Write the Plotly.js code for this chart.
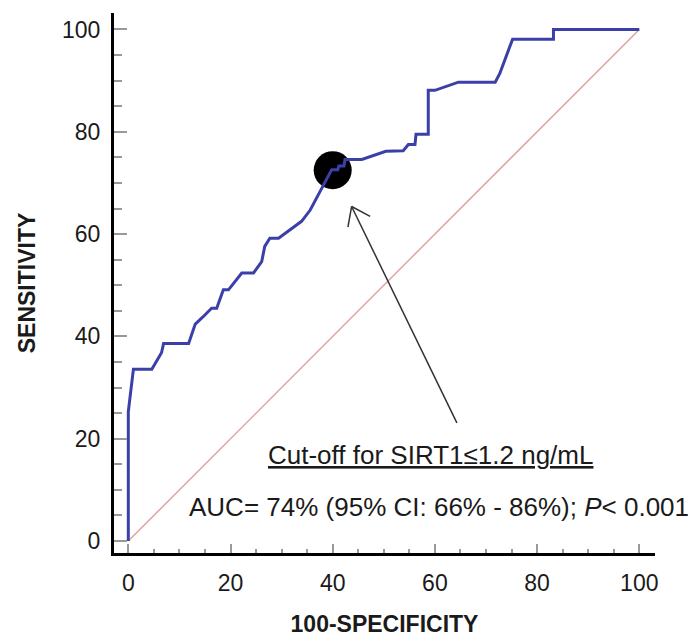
<!DOCTYPE html>
<html>
<head>
<meta charset="utf-8">
<script src="https://cdn.plot.ly/plotly-3.0.1.min.js"></script>
<style>
  html, body { margin: 0; padding: 0; background: #ffffff; }
  #chart { width: 698px; height: 643px; }
</style>
</head>
<body>
<div id="chart"></div>
<script>
// ROC curve for SIRT1 (100-specificity vs sensitivity, in %)
const rocFpr = [0, 0, 1.0, 4.6, 6.5, 6.9, 11.8, 13.1, 14.7, 16.3, 17.3, 18.6, 19.6, 22.2, 24.5,
  26.1, 26.7, 27.7, 29.4, 33.9, 35.6, 37.2, 38.3, 39.8, 41.0, 41.2, 42.2, 42.4, 45.7, 50.4,
  53.8, 54.8, 56.1, 56.3, 58.7, 58.7, 60.0, 64.6, 71.8, 72.7, 75.2, 83.2, 83.2, 100];
const rocTpr = [0, 25.3, 33.6, 33.6, 36.8, 38.6, 38.6, 42.4, 43.9, 45.5, 45.5, 49.1, 49.1, 52.4, 52.4,
  54.6, 57.6, 59.2, 59.2, 62.5, 64.7, 67.7, 69.8, 72.6, 72.6, 73.3, 73.3, 74.6, 74.6, 76.2,
  76.3, 77.5, 77.5, 79.5, 79.5, 88.1, 88.1, 89.7, 89.7, 91.4, 98.1, 98.1, 100, 100];

// Reference (chance) diagonal
const diagX = [0, 100];
const diagY = [0, 100];

// Optimal cut-off point
const cutX = [40.0];
const cutY = [72.5];

// Arrow from the label to the cut-off point
const arrowTail = [64.3, 23.1];
const arrowTip = [43.7, 65.4];

const tickVals = [0, 20, 40, 60, 80, 100];
const tickText = ['0', '20', '40', '60', '80', '100'];

const labelFont = 'Arial, "Liberation Sans", sans-serif';

const traces = [
  {
    x: diagX, y: diagY, mode: 'lines', type: 'scatter',
    line: { color: '#e0a4a0', width: 1.5 },
    hoverinfo: 'skip', showlegend: false
  },
  {
    x: cutX, y: cutY, mode: 'markers', type: 'scatter',
    marker: { color: '#000000', size: 38, line: { width: 0 } },
    showlegend: false
  },
  {
    x: rocFpr, y: rocTpr, mode: 'lines', type: 'scatter',
    line: { color: '#3b40a8', width: 3 },
    showlegend: false
  }
];

const axisCommon = {
  showgrid: false, zeroline: false,
  showline: true, linecolor: '#000000', linewidth: 3,
  ticks: 'inside', tickcolor: '#999999', tickwidth: 2,
  tickmode: 'array', tickvals: tickVals, ticktext: tickText,
  tickfont: { family: labelFont, size: 23, color: '#1a1a1a' },
  fixedrange: true
};

const margin = { l: 114, r: 43, t: 13, b: 89.5 };
const xRange = [-2.8, 103.07];
const yRange = [-2.34, 103.22];
const plotW = 698 - margin.l - margin.r;
const plotH = 643 - margin.t - margin.b;

// Open arrowhead: two short strokes at the tip, built in pixel space
function toPx(p) {
  return [
    (p[0] - xRange[0]) / (xRange[1] - xRange[0]) * plotW,
    (p[1] - yRange[0]) / (yRange[1] - yRange[0]) * plotH
  ];
}
function toData(q) {
  return [
    xRange[0] + q[0] / plotW * (xRange[1] - xRange[0]),
    yRange[0] + q[1] / plotH * (yRange[1] - yRange[0])
  ];
}
const tipPx = toPx(arrowTip), tailPx = toPx(arrowTail);
const ang = Math.atan2(tailPx[1] - tipPx[1], tailPx[0] - tipPx[0]);
const headLen = 21, headSpread = 36 * Math.PI / 180;
const headShapes = [-1, 1].map(function (s) {
  const a = ang + s * headSpread;
  const end = toData([tipPx[0] + headLen * Math.cos(a), tipPx[1] + headLen * Math.sin(a)]);
  return {
    type: 'line', xref: 'x', yref: 'y',
    x0: arrowTip[0], y0: arrowTip[1], x1: end[0], y1: end[1],
    line: { color: '#333333', width: 1.5 }
  };
});

const layout = {
  width: 698, height: 643,
  margin: margin,
  paper_bgcolor: '#ffffff', plot_bgcolor: '#ffffff',
  showlegend: false,
  xaxis: Object.assign({}, axisCommon, {
    range: xRange,
    ticklen: 9,
    minor: { dtick: 5, tick0: 0, ticks: 'inside', ticklen: 4, tickcolor: '#999999', tickwidth: 2 },
    ticklabelstandoff: 7,
    title: { text: '<b>100-SPECIFICITY</b>', standoff: 22,
      font: { family: labelFont, size: 23, color: '#1a1a1a' } }
  }),
  yaxis: Object.assign({}, axisCommon, {
    range: yRange,
    ticklen: 13,
    minor: { dtick: 5, tick0: 0, ticks: 'inside', ticklen: 8, tickcolor: '#999999', tickwidth: 2 },
    ticklabelstandoff: 6,
    title: { text: '<b>SENSITIVITY</b>', standoff: 20,
      font: { family: labelFont, size: 23, color: '#1a1a1a' } }
  }),
  shapes: [
    {
      type: 'line', xref: 'x', yref: 'y',
      x0: arrowTail[0], y0: arrowTail[1], x1: arrowTip[0], y1: arrowTip[1],
      line: { color: '#333333', width: 1.5 }
    }
  ].concat(headShapes),
  annotations: [
    {
      x: 430.8, y: 455, xref: 'paper', yref: 'paper',
      text: '<u>Cut-off for SIRT1\u22641.2 ng/mL</u>',
      showarrow: false, xanchor: 'center', yanchor: 'middle',
      font: { family: labelFont, size: 26, color: '#1a1a1a' }
    },
    {
      x: 438.5, y: 507, xref: 'paper', yref: 'paper',
      text: 'AUC= 74% (95% CI: 66% - 86%); <i>P</i>< 0.001',
      showarrow: false, xanchor: 'center', yanchor: 'middle',
      font: { family: labelFont, size: 26, color: '#1a1a1a' }
    }
  ]
};

// Text annotations are placed in page pixels; convert to paper coordinates
layout.annotations.forEach(function (a) {
  a.x = (a.x - margin.l) / plotW;
  a.y = 1 - (a.y - margin.t) / plotH;
});

Plotly.newPlot('chart', traces, layout, { staticPlot: true, displayModeBar: false });
</script>
</body>
</html>
